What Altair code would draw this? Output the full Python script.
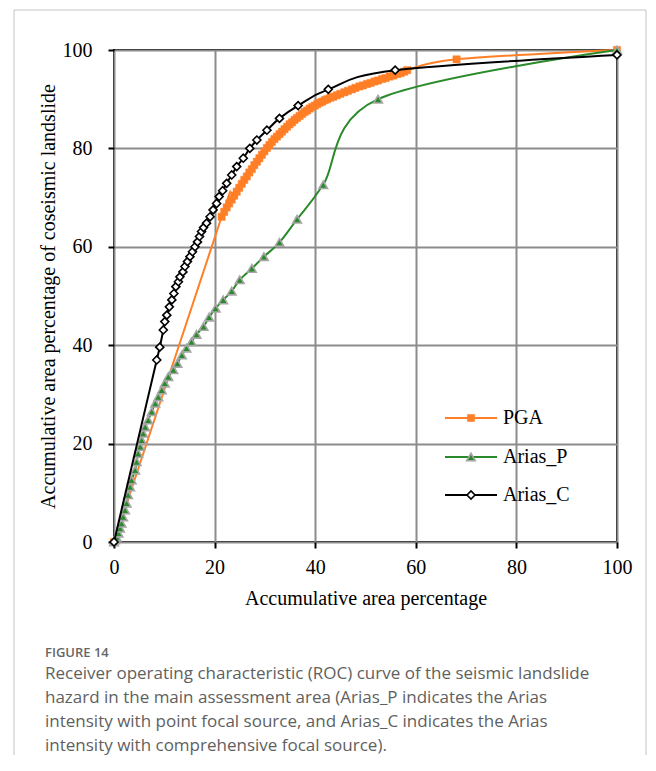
import altair as alt
import pandas as pd

# ---------------- data ----------------
pga_x = [0, 21.4, 21.9, 22.4, 22.9, 23.4, 23.9, 24.4, 24.9, 25.4, 25.9, 26.4, 26.9, 27.4,
         27.9, 28.4, 28.9, 29.4, 29.9, 30.4, 30.9, 31.4, 31.9, 32.4, 32.9, 33.4, 33.9,
         34.4, 34.9, 35.4, 35.9, 36.4, 36.9, 37.4, 37.9, 38.4, 38.9, 39.4, 39.9, 40.4,
         40.9, 41.4, 41.9, 42.4, 43.0, 43.6, 44.3, 45.0, 45.8, 46.5, 47.3, 48.0, 48.8,
         49.5, 50.3, 51.0, 51.8, 52.5, 53.3, 54.0, 54.8, 55.5, 56.3, 57.0, 57.7, 58.3,
         68.1, 100]
pga_y = [0, 66.1, 67.1, 68.0, 68.8, 69.6, 70.4, 71.2, 72.0, 72.8, 73.6, 74.3, 75.1, 75.8,
         76.6, 77.3, 78.0, 78.7, 79.4, 80.1, 80.7, 81.3, 81.9, 82.4, 82.9, 83.4, 83.9,
         84.4, 84.9, 85.3, 85.8, 86.2, 86.6, 87.0, 87.4, 87.7, 88.1, 88.4, 88.7, 89.0,
         89.3, 89.5, 89.8, 90.0, 90.3, 90.5, 90.8, 91.1, 91.4, 91.7, 92.0, 92.3, 92.6,
         92.8, 93.1, 93.3, 93.6, 93.8, 94.1, 94.3, 94.6, 94.8, 95.1, 95.3, 95.6, 95.9,
         98.1, 100]

ariasp_x = [0, 0.2, 0.5, 0.9, 1.2, 1.5, 1.8, 2.2, 2.5, 2.8, 3.2, 3.5, 4.2, 4.5, 4.8, 5.2,
            5.5, 5.8, 6.2, 6.8, 7.5, 8.2, 8.8, 9.5, 10.1, 10.8, 11.8, 12.6, 13.5, 14.4,
            15.4, 16.4, 17.8, 18.9, 20.2, 21.7, 23.4, 25.0, 27.4, 29.8, 32.9, 36.4, 41.6,
            52.5, 100]
ariasp_y = [0, 0.4, 1.0, 1.8, 2.8, 3.8, 5.1, 6.5, 7.9, 9.6, 11.2, 12.6, 14.6, 16.3, 18.0,
            19.4, 20.7, 22.1, 23.4, 24.8, 26.5, 28.2, 29.5, 30.9, 32.3, 33.6, 35.0, 36.3,
            38.0, 39.4, 40.7, 42.2, 43.8, 45.7, 47.5, 49.2, 51.0, 53.3, 55.6, 58.0, 60.9,
            65.6, 72.6, 90.0, 100]

ariasc_x = [0, 8.5, 9.1, 9.8, 10.1, 10.5, 11.0, 11.5, 11.9, 12.3, 12.8, 13.1, 13.7, 14.1,
            14.6, 15.1, 15.6, 16.1, 16.6, 17.0, 17.4, 17.8, 18.4, 19.1, 19.7, 20.4, 20.9,
            21.6, 22.4, 23.4, 24.4, 25.7, 27.0, 28.4, 30.4, 32.9, 36.6, 42.6, 55.9, 100]
ariasc_y = [0, 37.0, 39.6, 43.1, 44.8, 46.1, 47.8, 49.2, 50.5, 51.9, 52.9, 53.9, 54.9, 56.0,
            57.0, 58.0, 59.0, 60.0, 61.0, 62.1, 63.1, 63.9, 64.8, 66.1, 67.5, 68.8, 70.2,
            71.4, 72.9, 74.6, 76.3, 78.0, 80.0, 81.7, 83.7, 86.1, 88.7, 92.0, 95.9, 99.0]

tick_values = [0, 20, 40, 60, 80, 100]
series_names = ["PGA", "Arias_P", "Arias_C"]
x_title = "Accumulative area percentage"
y_title = "Accumulative area percentage of coseismic landslide"
fig_label = "FIGURE 14"
caption_lines = [
    "Receiver operating characteristic (ROC) curve of the seismic landslide",
    "hazard in the main assessment area (Arias_P indicates the Arias",
    "intensity with point focal source, and Arias_C indicates the Arias",
    "intensity with comprehensive focal source).",
]

# ---------------- styling ----------------
W, H = 503, 492
SERIF = "Liberation Serif"
SANS = "Open Sans"
ORANGE = "#ff7f27"
GREEN = "#2a8a2a"
GREY_EDGE = "#a6a6a6"

xs = alt.Scale(domain=[0, 100], nice=False, zero=False)
ys = alt.Scale(domain=[0, 100], nice=False, zero=False)

x_axis = alt.Axis(values=tick_values, grid=True, gridColor="#8c8c8c", gridWidth=2,
                  domain=False, ticks=True, tickColor="black", tickWidth=2, tickSize=6,
                  labelFont=SERIF, labelFontSize=20, labelColor="black", labelPadding=9,
                  labelFlush=False, labelOverlap=False,
                  title=x_title, titleFont=SERIF, titleFontSize=20, titleFontWeight="normal",
                  titleColor="black", titleBaseline="alphabetic", titleAlign="center",
                  titleX=W / 2, titleY=62)
y_axis = alt.Axis(values=tick_values, grid=True, gridColor="#8c8c8c", gridWidth=2,
                  domain=False, ticks=True, tickColor="black", tickWidth=2, tickSize=6,
                  labelFont=SERIF, labelFontSize=20, labelColor="black", labelPadding=16,
                  labelFlush=False, labelOverlap=False,
                  title=y_title, titleFont=SERIF, titleFontSize=20, titleFontWeight="normal",
                  titleColor="black", titleBaseline="alphabetic", titleAlign="center",
                  titleAngle=270, titleX=-60, titleY=H / 2)


def series_layers(xv, yv, color, shape, fill, stroke, size, sw):
    df = pd.DataFrame({"x": xv, "y": yv})
    base = alt.Chart(df).encode(
        x=alt.X("x:Q", scale=xs, axis=x_axis),
        y=alt.Y("y:Q", scale=ys, axis=y_axis),
    )
    line = base.mark_line(color=color, strokeWidth=2, interpolate="cardinal", tension=0)
    pts = base.mark_point(shape=shape, filled=True, fill=fill, stroke=stroke,
                          strokeWidth=sw, size=size, opacity=1, fillOpacity=1,
                          strokeOpacity=1)
    return [line, pts]


one = pd.DataFrame({"a": [0]})

layers = []
layers += series_layers(pga_x, pga_y, ORANGE, "square", ORANGE, ORANGE, 52, 0.5)
layers += series_layers(ariasp_x, ariasp_y, GREEN, "triangle-up", GREEN, GREY_EDGE, 75, 1.6)
layers += series_layers(ariasc_x, ariasc_y, "black", "diamond", "white", "black", 64, 1.6)

# ---------------- manual legend ----------------
leg_specs = [
    (series_names[0], ORANGE, "square", ORANGE, ORANGE, 50, 0.5, 368),
    (series_names[1], GREEN, "triangle-up", GREEN, GREY_EDGE, 75, 1.6, 407),
    (series_names[2], "black", "diamond", "white", "black", 64, 1.6, 445),
]
for name, col, shp, fl, st, sz, sw, yy in leg_specs:
    layers.append(alt.Chart(one).mark_rule(color=col, strokeWidth=2).encode(
        x=alt.value(331), x2=alt.value(383), y=alt.value(yy)))
    layers.append(alt.Chart(one).mark_point(shape=shp, filled=True, fill=fl, stroke=st,
                                            strokeWidth=sw, size=sz, opacity=1).encode(
        x=alt.value(357), y=alt.value(yy)))
    layers.append(alt.Chart(one).mark_text(font=SERIF, fontSize=20, color="black",
                                           align="left", baseline="middle").encode(
        x=alt.value(389), y=alt.value(yy), text=alt.value(name)))

# ---------------- figure border & caption ----------------
layers.append(alt.Chart(one).mark_rect(fill="white", fillOpacity=0, stroke="#c4c4c4",
                                       strokeWidth=1).encode(
    x=alt.value(-100), x2=alt.value(532), y=alt.value(-40), y2=alt.value(760)))

layers.append(alt.Chart(one).mark_text(font=SANS, fontSize=13, fontWeight=600,
                                       color="#666666", align="left",
                                       baseline="middle").encode(
    x=alt.value(-69), y=alt.value(603), text=alt.value(fig_label)))
for i, line_txt in enumerate(caption_lines):
    layers.append(alt.Chart(one).mark_text(font=SANS, fontSize=17, color="#5f5f5f",
                                           align="left", baseline="middle").encode(
        x=alt.value(-69), y=alt.value(624 + 24 * i), text=alt.value(line_txt)))

chart = alt.layer(*layers).properties(
    width=W, height=H,
    padding={"left": 106, "top": 42, "right": 31, "bottom": 213},
    autosize=alt.AutoSizeParams(type="none"),
    background="white",
).configure_view(stroke="black", strokeWidth=2)

chart.save("out.html", embed_options={"renderer": "svg", "actions": False})
